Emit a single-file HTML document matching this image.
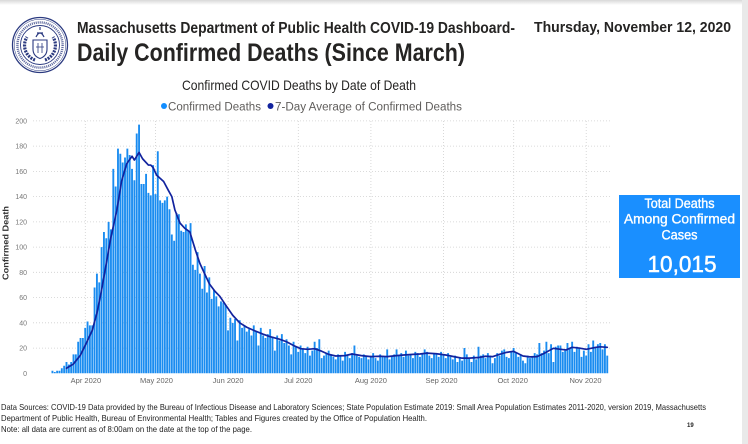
<!DOCTYPE html>
<html><head><meta charset="utf-8">
<style>
html,body{margin:0;padding:0;background:#fff;}
body{width:748px;height:444px;overflow:hidden;}
svg{display:block;font-family:"Liberation Sans",sans-serif;}
</style></head>
<body>
<svg width="748" height="444" viewBox="0 0 748 444" xmlns="http://www.w3.org/2000/svg">
<defs>
<linearGradient id="tg" x1="0" y1="0" x2="0" y2="1">
<stop offset="0" stop-color="#d8d8d8"/><stop offset="1" stop-color="#ffffff"/>
</linearGradient>
</defs>
<rect width="748" height="444" fill="#fff"/>
<rect x="0" y="0" width="748" height="5" fill="url(#tg)"/>
<rect x="742" y="0" width="6" height="444" fill="#e9e9e9"/>

<!-- seal -->
<g transform="translate(40,45)" stroke="#2b3a80" fill="none">
<circle r="27.5" stroke-width="1.3"/>
<circle r="25.8" stroke-width="0.5"/>
<circle r="22.6" stroke-width="2.4" stroke-dasharray="1.1 0.9" opacity="0.75"/>
<circle r="19.5" stroke-width="0.9"/>
<path d="M-5 15 A15.5 15.5 0 0 1 -13 -8" stroke-width="3.2" stroke-dasharray="2 1"/>
<path d="M5 15 A15.5 15.5 0 0 0 13 -8" stroke-width="3.2" stroke-dasharray="2 1"/>
<path d="M-7 -5 H7 V4 Q7 11 0 13.5 Q-7 11 -7 4 Z" stroke-width="1.1"/>
<path d="M-2 -2 V8 M2 -2 V8 M-4 2 H4" stroke-width="0.8"/>
<path d="M-4 -8 Q0 -16 4 -8 M0 -15 V-18 M-3 -12 H3" stroke-width="1.2"/>
</g>

<!-- header -->
<text x="77" y="33" font-size="15.5" font-weight="bold" fill="#252423" textLength="438" lengthAdjust="spacingAndGlyphs">Massachusetts Department of Public Health COVID-19 Dashboard-</text>
<text x="534" y="32" font-size="15" font-weight="bold" fill="#252423" textLength="197" lengthAdjust="spacingAndGlyphs">Thursday, November 12, 2020</text>
<text x="77" y="61" font-size="25" font-weight="bold" fill="#252423" textLength="388" lengthAdjust="spacingAndGlyphs">Daily Confirmed Deaths (Since March)</text>

<text x="182" y="90" font-size="14" fill="#252423" textLength="234" lengthAdjust="spacingAndGlyphs">Confirmed COVID Deaths by Date of Death</text>

<circle cx="164" cy="106" r="3" fill="#118DFF"/>
<text x="168" y="110.5" font-size="11.5" fill="#605e5c" textLength="93" lengthAdjust="spacingAndGlyphs">Confirmed Deaths</text>
<circle cx="270.5" cy="106" r="3" fill="#12239E"/>
<text x="275" y="110.5" font-size="11.5" fill="#605e5c" textLength="187" lengthAdjust="spacingAndGlyphs">7-Day Average of Confirmed Deaths</text>

<!-- gridlines -->
<g stroke="#cfcfcf" stroke-width="0.8" stroke-dasharray="1 2" fill="none">
<path d="M33 348.1H612M33 322.8H612M33 297.6H612M33 272.3H612M33 247.1H612M33 221.9H612M33 196.6H612M33 171.4H612M33 146.1H612M33 120.9H612"/>
<path d="M85.3 121V373M155.5 121V373M228.1 121V373M298.3 121V373M370.9 121V373M443.4 121V373M513.7 121V373M586.2 121V373"/>
</g>

<!-- y labels -->
<g font-size="7" fill="#777" text-anchor="end">
<text x="27" y="375.8">0</text>
<text x="27" y="350.6">20</text>
<text x="27" y="325.3">40</text>
<text x="27" y="300.1">60</text>
<text x="27" y="274.8">80</text>
<text x="27" y="249.6">100</text>
<text x="27" y="224.4">120</text>
<text x="27" y="199.1">140</text>
<text x="27" y="173.9">160</text>
<text x="27" y="148.6">180</text>
<text x="27" y="123.4">200</text>
</g>
<text transform="translate(8.5,243) rotate(-90)" text-anchor="middle" font-size="8" font-weight="bold" fill="#333" textLength="74" lengthAdjust="spacingAndGlyphs">Confirmed Death</text>

<!-- x labels -->
<g font-size="7.5" fill="#666" text-anchor="middle">
<text x="85.9" y="383">Apr 2020</text>
<text x="156.5" y="383">May 2020</text>
<text x="228.1" y="383">Jun 2020</text>
<text x="298.3" y="383">Jul 2020</text>
<text x="370.9" y="383">Aug 2020</text>
<text x="441.5" y="383">Sep 2020</text>
<text x="512.7" y="383">Oct 2020</text>
<text x="585.5" y="383">Nov 2020</text>
</g>

<!-- bars + line -->
<g transform="translate(51.5,373.3) scale(2.341,-1.262)">
<path fill="#1a8cf0" d="M0 0V2h.8V0ZM1 0V1h.8V0ZM2 0V2h.8V0ZM3 0V2h.8V0ZM4 0V4h.8V0ZM5 0V6h.8V0ZM6 0V9h.8V0ZM7 0V7h.8V0ZM8 0V9h.8V0ZM9 0V15h.8V0ZM10 0V15h.8V0ZM11 0V25h.8V0ZM12 0V28h.8V0ZM13 0V28h.8V0ZM14 0V36h.8V0ZM15 0V41h.8V0ZM16 0V38h.8V0ZM17 0V38h.8V0ZM18 0V68h.8V0ZM19 0V79h.8V0ZM20 0V72h.8V0ZM21 0V100h.8V0ZM22 0V112h.8V0ZM23 0V107h.8V0ZM24 0V120h.8V0ZM25 0V114h.8V0ZM26 0V162h.8V0ZM27 0V148h.8V0ZM28 0V178h.8V0ZM29 0V174h.8V0ZM30 0V167h.8V0ZM31 0V171h.8V0ZM32 0V178h.8V0ZM33 0V173h.8V0ZM34 0V162h.8V0ZM35 0V153h.8V0ZM36 0V190h.8V0ZM37 0V197h.8V0ZM38 0V150h.8V0ZM39 0V150h.8V0ZM40 0V158h.8V0ZM41 0V143h.8V0ZM42 0V141h.8V0ZM43 0V165h.8V0ZM44 0V142h.8V0ZM45 0V176h.8V0ZM46 0V137h.8V0ZM47 0V135h.8V0ZM48 0V137h.8V0ZM49 0V140h.8V0ZM50 0V130h.8V0ZM51 0V110h.8V0ZM52 0V105h.8V0ZM53 0V127h.8V0ZM54 0V126h.8V0ZM55 0V113h.8V0ZM56 0V112h.8V0ZM57 0V118h.8V0ZM58 0V113h.8V0ZM59 0V119h.8V0ZM60 0V86h.8V0ZM61 0V82h.8V0ZM62 0V96h.8V0ZM63 0V79h.8V0ZM64 0V67h.8V0ZM65 0V85h.8V0ZM66 0V64h.8V0ZM67 0V76h.8V0ZM68 0V59h.8V0ZM69 0V66h.8V0ZM70 0V61h.8V0ZM71 0V53h.8V0ZM72 0V57h.8V0ZM73 0V56h.8V0ZM74 0V54h.8V0ZM75 0V34h.8V0ZM76 0V44h.8V0ZM77 0V40h.8V0ZM78 0V43h.8V0ZM79 0V26h.8V0ZM80 0V42h.8V0ZM81 0V36h.8V0ZM82 0V38h.8V0ZM83 0V33h.8V0ZM84 0V35h.8V0ZM85 0V30h.8V0ZM86 0V38h.8V0ZM87 0V33h.8V0ZM88 0V22h.8V0ZM89 0V36h.8V0ZM90 0V30h.8V0ZM91 0V28h.8V0ZM92 0V31h.8V0ZM93 0V35h.8V0ZM94 0V29h.8V0ZM95 0V18h.8V0ZM96 0V30h.8V0ZM97 0V26h.8V0ZM98 0V31h.8V0ZM99 0V24h.8V0ZM100 0V27h.8V0ZM101 0V22h.8V0ZM102 0V15h.8V0ZM103 0V25h.8V0ZM104 0V21h.8V0ZM105 0V17h.8V0ZM106 0V22h.8V0ZM107 0V19h.8V0ZM108 0V16h.8V0ZM109 0V21h.8V0ZM110 0V14h.8V0ZM111 0V18h.8V0ZM112 0V25h.8V0ZM113 0V20h.8V0ZM114 0V27h.8V0ZM115 0V12h.8V0ZM116 0V14h.8V0ZM117 0V16h.8V0ZM118 0V18h.8V0ZM119 0V15h.8V0ZM120 0V13h.8V0ZM121 0V11h.8V0ZM122 0V15h.8V0ZM123 0V14h.8V0ZM124 0V10h.8V0ZM125 0V17h.8V0ZM126 0V14h.8V0ZM127 0V12h.8V0ZM128 0V16h.8V0ZM129 0V22h.8V0ZM130 0V14h.8V0ZM131 0V13h.8V0ZM132 0V12h.8V0ZM133 0V15h.8V0ZM134 0V14h.8V0ZM135 0V11h.8V0ZM136 0V13h.8V0ZM137 0V16h.8V0ZM138 0V12h.8V0ZM139 0V10h.8V0ZM140 0V15h.8V0ZM141 0V14h.8V0ZM142 0V13h.8V0ZM143 0V19h.8V0ZM144 0V11h.8V0ZM145 0V14h.8V0ZM146 0V15h.8V0ZM147 0V19h.8V0ZM148 0V14h.8V0ZM149 0V16h.8V0ZM150 0V13h.8V0ZM151 0V18h.8V0ZM152 0V14h.8V0ZM153 0V15h.8V0ZM154 0V12h.8V0ZM155 0V17h.8V0ZM156 0V16h.8V0ZM157 0V13h.8V0ZM158 0V15h.8V0ZM159 0V19h.8V0ZM160 0V17h.8V0ZM161 0V14h.8V0ZM162 0V12h.8V0ZM163 0V16h.8V0ZM164 0V15h.8V0ZM165 0V13h.8V0ZM166 0V17h.8V0ZM167 0V15h.8V0ZM168 0V12h.8V0ZM169 0V16h.8V0ZM170 0V13h.8V0ZM171 0V11h.8V0ZM172 0V14h.8V0ZM173 0V9h.8V0ZM174 0V12h.8V0ZM175 0V10h.8V0ZM176 0V20h.8V0ZM177 0V15h.8V0ZM178 0V12h.8V0ZM179 0V9h.8V0ZM180 0V14h.8V0ZM181 0V11h.8V0ZM182 0V21h.8V0ZM183 0V14h.8V0ZM184 0V15h.8V0ZM185 0V12h.8V0ZM186 0V16h.8V0ZM187 0V14h.8V0ZM188 0V8h.8V0ZM189 0V12h.8V0ZM190 0V16h.8V0ZM191 0V14h.8V0ZM192 0V18h.8V0ZM193 0V19h.8V0ZM194 0V13h.8V0ZM195 0V12h.8V0ZM196 0V17h.8V0ZM197 0V20h.8V0ZM198 0V16h.8V0ZM199 0V13h.8V0ZM200 0V15h.8V0ZM201 0V10h.8V0ZM202 0V8h.8V0ZM203 0V14h.8V0ZM204 0V12h.8V0ZM205 0V13h.8V0ZM206 0V16h.8V0ZM207 0V15h.8V0ZM208 0V24h.8V0ZM209 0V16h.8V0ZM210 0V18h.8V0ZM211 0V25h.8V0ZM212 0V16h.8V0ZM213 0V23h.8V0ZM214 0V9h.8V0ZM215 0V21h.8V0ZM216 0V22h.8V0ZM217 0V22h.8V0ZM218 0V17h.8V0ZM219 0V18h.8V0ZM220 0V24h.8V0ZM221 0V20h.8V0ZM222 0V25h.8V0ZM223 0V17h.8V0ZM224 0V21h.8V0ZM225 0V20h.8V0ZM226 0V13h.8V0ZM227 0V18h.8V0ZM228 0V14h.8V0ZM229 0V23h.8V0ZM230 0V17h.8V0ZM231 0V26h.8V0ZM232 0V21h.8V0ZM233 0V23h.8V0ZM234 0V24h.8V0ZM235 0V19h.8V0ZM236 0V23h.8V0ZM237 0V14h.8V0Z"/>
<polyline fill="none" stroke="#12239E" stroke-width="1.7" stroke-linejoin="round" stroke-linecap="round" vector-effect="non-scaling-stroke" points="6.4,4 9.4,7.4 12.4,14.5 15.4,26 17.4,34 19.4,47.6 21.4,66 23.4,87 25.4,108 27.9,129 29.9,152 32.1,166 34.4,172 35.4,169 37.4,175 38.9,170 41.4,165 42.4,165 43.4,163 44.9,157 47.9,152 49.9,145 51.4,140 52.7,129.5 54.9,119 56.9,115 59.1,112 61.4,98 63.4,87 65.4,79 67.4,71 69.8,65 71.9,61 74.8,53 77.4,46 80.4,40 83.4,36.5 86.4,34 90.4,31 93.4,29 97.4,27 100.4,25 103.4,22 106.4,19.5 109.4,19 112.4,19.5 115.4,17.5 118.4,15 121.4,13.7 125.4,14 128.4,15.3 132.4,14 136.4,13.2 140.4,13.5 143.4,13.2 147.4,14 150.4,14.5 154.4,15 157.4,15.3 160.4,16 164.4,15.5 168.4,14.5 172.4,13 175.4,12 178.4,12 182.4,12.5 185.4,13.5 188.4,13.2 191.4,15 194.4,16.6 197.4,17.4 201.4,13.7 204.4,13 207.4,13.2 209.9,15.3 214.4,19.8 217.4,19 219.8,18.5 222.4,20.6 225.4,20 228.4,19 232.6,20.6 234.4,21 237.4,20.6"/>
</g>

<!-- KPI box -->
<rect x="619" y="195" width="121" height="83" fill="#1a8fff"/>
<g fill="#fff" stroke="#fff" stroke-width="0.35" text-anchor="middle">
<text x="679.5" y="208" font-size="13.5" textLength="70" lengthAdjust="spacingAndGlyphs">Total Deaths</text>
<text x="679.5" y="223.5" font-size="13.5" textLength="111" lengthAdjust="spacingAndGlyphs">Among Confirmed</text>
<text x="679.5" y="239.5" font-size="13.5" textLength="36" lengthAdjust="spacingAndGlyphs">Cases</text>
<text x="682" y="272" font-size="23" stroke-width="0.5" textLength="69" lengthAdjust="spacingAndGlyphs">10,015</text>
</g>

<!-- footer -->
<g font-size="8.5" fill="#222">
<text x="1" y="410" textLength="705" lengthAdjust="spacingAndGlyphs">Data Sources: COVID-19 Data provided by the Bureau of Infectious Disease and Laboratory Sciences; State Population Estimate 2019: Small Area Population Estimates 2011-2020, version 2019, Massachusetts</text>
<text x="1" y="421" textLength="426" lengthAdjust="spacingAndGlyphs">Department of Public Health, Bureau of Environmental Health; Tables and Figures created by the Office of Population Health.</text>
<text x="1" y="432" textLength="251" lengthAdjust="spacingAndGlyphs">Note: all data are current as of 8:00am on the date at the top of the page.</text>
</g>
<text x="687" y="427" font-size="6" font-weight="bold" fill="#222">19</text>
</svg>
</body></html>
